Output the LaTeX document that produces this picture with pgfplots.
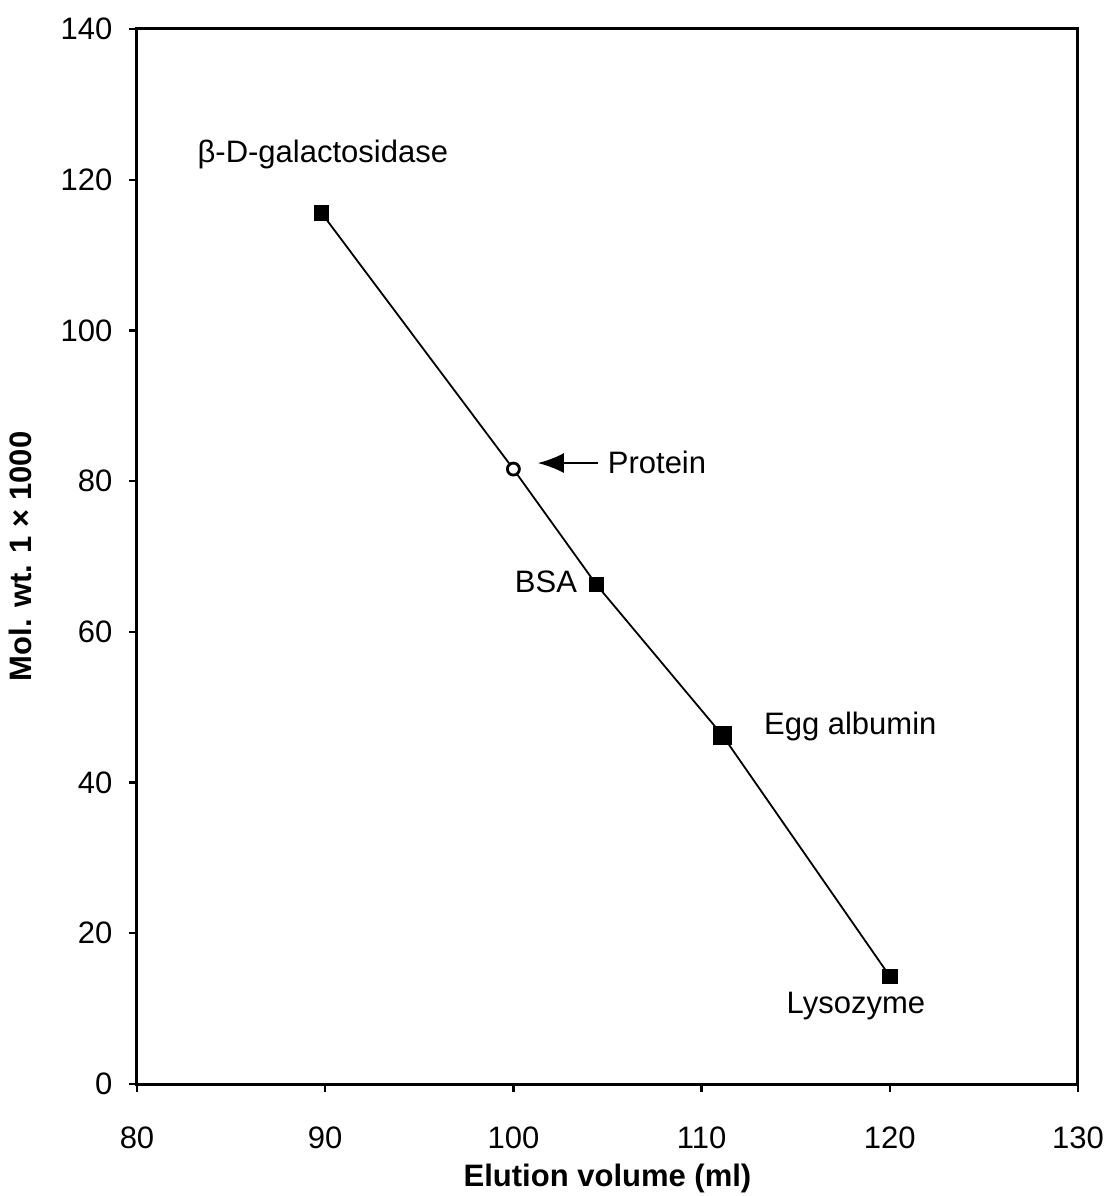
\documentclass[border=0pt]{standalone}
\usepackage{pgfplots}
\pgfplotsset{compat=1.18}
\usetikzlibrary{arrows.meta}
\usepackage{fontspec}
\setmainfont{Liberation Sans}
\begin{document}
\fontsize{15.5}{18}\selectfont
\begin{tikzpicture}
\begin{axis}[
  scale only axis,
  width=470.5pt, height=527.5pt,
  xmin=80, xmax=130, ymin=0, ymax=140,
  xtick={80,90,...,130}, ytick={0,20,...,140},
  axis line style={line width=1.5pt},
  tick style={line width=1.2pt, black},
  tick align=outside,
  major tick length=4pt,
  xtick pos=bottom, ytick pos=left,
  /pgf/number format/assume math mode=true,
  tick label style={font=\fontsize{15.5}{18}\selectfont},
  xticklabel style={yshift=-12pt},
  yticklabel style={xshift=-3pt},
  xlabel={\bfseries Elution volume (ml)},
  ylabel={\bfseries Mol. wt. 1 × 1000},
  xlabel style={font=\fontsize{15.5}{18}\selectfont, yshift=3pt},
  ylabel style={font=\fontsize{15.5}{18}\selectfont, yshift=4pt},
  clip=false,
]
\addplot[black, line width=0.9pt, mark=none] coordinates {
  (89.8,115.6) (100.0,81.6) (104.4,66.3) (111.1,46.3) (120.0,14.3)
};
\addplot[only marks, mark=square*, mark size=3.6pt, black] coordinates {
  (89.8,115.6) (104.4,66.3) (120.0,14.3)
};
\addplot[only marks, mark=square*, mark size=4.5pt, black] coordinates {
  (111.1,46.3)
};
\addplot[only marks, mark=*, mark size=3pt, black, line width=1.4pt, fill=white] coordinates {
  (100.0,81.6)
};
\node[anchor=west, inner sep=0pt] at (axis cs:83.2,123.4) {β-D-galactosidase};
\draw[-{Latex[length=13pt,width=10pt]}, line width=1pt] (axis cs:104.5,82.4) -- (axis cs:101.3,82.4);
\node[anchor=west, inner sep=0pt] at (axis cs:105.0,82.5) {Protein};
\node[anchor=east, inner sep=0pt] at (axis cs:103.4,66.6) {BSA};
\node[anchor=west, inner sep=0pt] at (axis cs:113.3,47.4) {Egg albumin};
\node[anchor=center, inner sep=0pt] at (axis cs:118.2,10.4) {Lysozyme};
\end{axis}
\pgfresetboundingbox
\path ([xshift=-68.5pt,yshift=-56pt]current axis.south west) rectangle ([xshift=14.5pt,yshift=14.5pt]current axis.north east);
\end{tikzpicture}
\end{document}
